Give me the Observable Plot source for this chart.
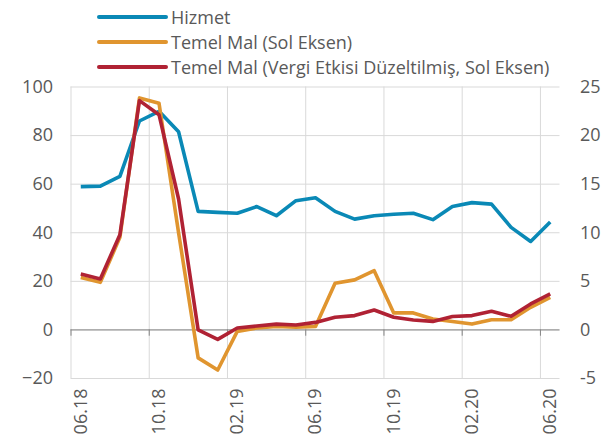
<!DOCTYPE html>
<html>
<head>
<meta charset="utf-8">
<script src="https://cdn.jsdelivr.net/npm/d3@7"></script>
<script src="https://cdn.jsdelivr.net/npm/@observablehq/plot@0.6"></script>
<style>
  html, body { margin: 0; padding: 0; background: #fff; }
  #wrap { position: relative; width: 614px; height: 444px; font-family: "Open Sans", sans-serif; }
  #legend { position: absolute; left: 97px; top: 4px; font-size: 18px; color: #595959; }
  .item { display: flex; align-items: center; height: 25px; }
  .sw { width: 71px; height: 4px; border-radius: 2px; margin-right: 3px; }
  #chart { position: absolute; left: 0; top: 0; }
</style>
</head>
<body>
<div id="wrap">
  <div id="chart"></div>
  <div id="legend"></div>
</div>
<script>
const months = ["06.18","07.18","08.18","09.18","10.18","11.18","12.18","01.19","02.19","03.19","04.19","05.19","06.19","07.19","08.19","09.19","10.19","11.19","12.19","01.20","02.20","03.20","04.20","05.20","06.20"];
const hizmet = [14.75,14.8,15.8,21.5,22.5,20.4,12.2,12.1,12.0,12.7,11.75,13.3,13.6,12.2,11.4,11.75,11.9,12.0,11.35,12.7,13.1,12.95,10.55,9.1,11.1];
const temelMal = [21.6,19.6,38.1,95.5,93.3,40,-11.5,-16.5,-0.6,0.8,1.4,1.1,1.4,19.2,20.6,24.4,7.0,7.0,4.5,3.5,2.4,4.2,4.2,9.3,13.4];
const temelMalVergi = [23.0,21.0,39.2,94.4,88.6,53.9,0,-3.9,0.8,1.6,2.4,2.0,3.1,5.2,5.9,8.2,5.2,4.1,3.5,5.5,5.9,7.7,5.6,10.7,14.8];
const seriesNames = ["Hizmet","Temel Mal (Sol Eksen)","Temel Mal (Vergi Etkisi Düzeltilmiş, Sol Eksen)"];
const colors = ["#0a89b6","#e0952f","#b02234"];
const leftTicks = [-20,0,20,40,60,80,100];
const labelIdx = [0,4,8,12,16,20,24];

const rows = [];
months.forEach((m,i)=>{
  rows.push({i, m, s: seriesNames[0], v: hizmet[i]*4});
  rows.push({i, m, s: seriesNames[1], v: temelMal[i]});
  rows.push({i, m, s: seriesNames[2], v: temelMalVergi[i]});
});

const gridX = labelIdx.map(i => i - 0.5);

const chart = Plot.plot({
  width: 614,
  height: 444,
  marginLeft: 70.5,
  marginRight: 54.5,
  marginTop: 86.5,
  marginBottom: 66,
  style: { fontFamily: "Open Sans, sans-serif", fontSize: "18px", color: "#595959", background: "#fff" },
  x: { domain: [-0.5, months.length - 0.5] },
  y: { domain: [-20, 100] },
  color: { domain: seriesNames, range: colors },
  marks: [
    Plot.gridY({ ticks: leftTicks, stroke: "#d9d9d9", strokeOpacity: 1, strokeWidth: 1 }),
    Plot.gridX({ ticks: gridX, stroke: "#d9d9d9", strokeOpacity: 1, strokeWidth: 1 }),
    Plot.ruleY([0], { stroke: "#868686", strokeWidth: 1 }),
    Plot.ruleX(gridX, { y1: 0, y2: -2.6, stroke: "#868686", strokeWidth: 1 }),
    Plot.axisY({ anchor: "left", ticks: leftTicks, tickSize: 0, tickPadding: 18, fontSize: 18, label: null }),
    Plot.axisY({ anchor: "right", ticks: leftTicks, tickSize: 0, tickPadding: 20, fontSize: 18, label: null, tickFormat: d => d / 4 }),
    Plot.axisX({ ticks: labelIdx, tickFormat: i => months[i], tickRotate: -90, tickSize: 0, tickPadding: 10, fontSize: 18, label: null }),
    Plot.lineY(rows, { x: "i", y: "v", z: "s", stroke: "s", strokeWidth: 3.6, strokeLinejoin: "round", strokeLinecap: "butt" })
  ]
});
document.getElementById("chart").appendChild(chart);

const legend = document.getElementById("legend");
seriesNames.forEach((n,k)=>{
  const it = document.createElement("div"); it.className = "item";
  const sw = document.createElement("div"); sw.className = "sw"; sw.style.background = colors[k];
  const tx = document.createElement("span"); tx.textContent = n;
  it.appendChild(sw); it.appendChild(tx); legend.appendChild(it);
});
</script>
</body>
</html>
